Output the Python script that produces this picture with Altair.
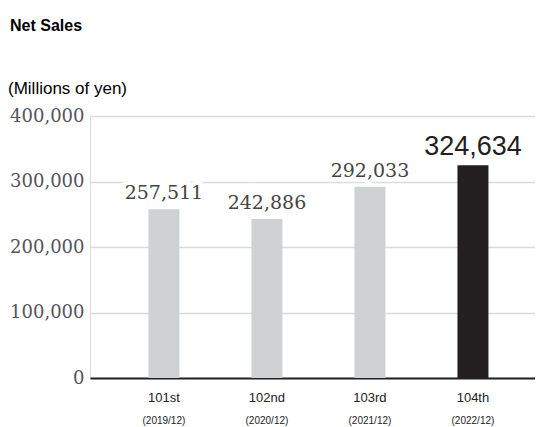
import altair as alt
import pandas as pd

# ---- data ----
periods = ["101st", "102nd", "103rd", "104th"]
fiscal_dates = ["(2019/12)", "(2020/12)", "(2021/12)", "(2022/12)"]
net_sales = [257511, 242886, 292033, 324634]
latest = [False, False, False, True]
y_ticks = [0, 100000, 200000, 300000, 400000]
chart_title = ["Net Sales"]
unit_label = ["(Millions of yen)"]

df = pd.DataFrame({"period": periods, "date": fiscal_dates,
                   "sales": net_sales, "latest": latest})

W, H = 445, 262

x_enc = alt.X("period:N", sort=periods,
              scale=alt.Scale(paddingInner=0, paddingOuter=0.16, align=0.68),
              axis=alt.Axis(title=None, labelAngle=0, labelFont="Liberation Sans",
                            labelFontSize=13, labelColor="#222", labelPadding=13,
                            domainColor="#222", domainWidth=2, ticks=False, grid=False))
y_enc = alt.Y("sales:Q", scale=alt.Scale(domain=[0, 400000], nice=False),
              axis=alt.Axis(title=None, values=y_ticks,
                            labelExpr="format(datum.value, ',d')",
                            labelFont="DejaVu Serif", labelFontSize=18,
                            labelColor="#55555d", labelPadding=6,
                            grid=True, gridColor="#dadada", gridWidth=1.5,
                            domain=False, ticks=False))

base = alt.Chart(df)

bars = base.mark_bar(size=31).encode(
    x=x_enc, y=y_enc,
    color=alt.condition("datum.latest", alt.value("#231f20"), alt.value("#d0d1d3")),
)

old = base.transform_filter("!datum.latest")
new = base.transform_filter("datum.latest")

halo = old.mark_text(font="DejaVu Serif", fontSize=19, baseline="bottom", dy=-6,
                     fill="white", stroke="white", strokeWidth=9).encode(
    x=x_enc, y=y_enc, text=alt.Text("sales:Q", format=","))
old_lbl = old.mark_text(font="DejaVu Serif", fontSize=19, baseline="bottom", dy=-6,
                        color="#444").encode(
    x=x_enc, y=y_enc, text=alt.Text("sales:Q", format=","))
new_lbl = new.mark_text(font="Liberation Sans", fontSize=27, baseline="bottom", dy=-4,
                        color="#231f20").encode(
    x=x_enc, y=y_enc, text=alt.Text("sales:Q", format=","))

dates = base.mark_text(font="Liberation Sans", fontSize=10, color="#222",
                       baseline="middle").encode(
    x=x_enc, y=alt.value(H + 43), text="date:N")

title = alt.Chart(pd.DataFrame({"t": chart_title})).mark_text(
    font="Liberation Sans", fontSize=16, fontWeight="bold", color="black",
    align="left", baseline="middle").encode(
    x=alt.value(-80), y=alt.value(-90), text="t:N")
unit = alt.Chart(pd.DataFrame({"t": unit_label})).mark_text(
    font="Liberation Sans", fontSize=17, color="black",
    align="left", baseline="middle").encode(
    x=alt.value(-82), y=alt.value(-27), text="t:N")

chart = alt.layer(bars, halo, old_lbl, new_lbl, dates, title, unit).properties(
    width=W, height=H,
    autosize=alt.AutoSizeParams(type="none"),
    padding={"left": 82, "top": 108, "right": 0, "bottom": 50},
).configure_view(stroke=None).configure(background="white")

chart.save("out.html", embed_options={"renderer": "svg", "actions": False})
